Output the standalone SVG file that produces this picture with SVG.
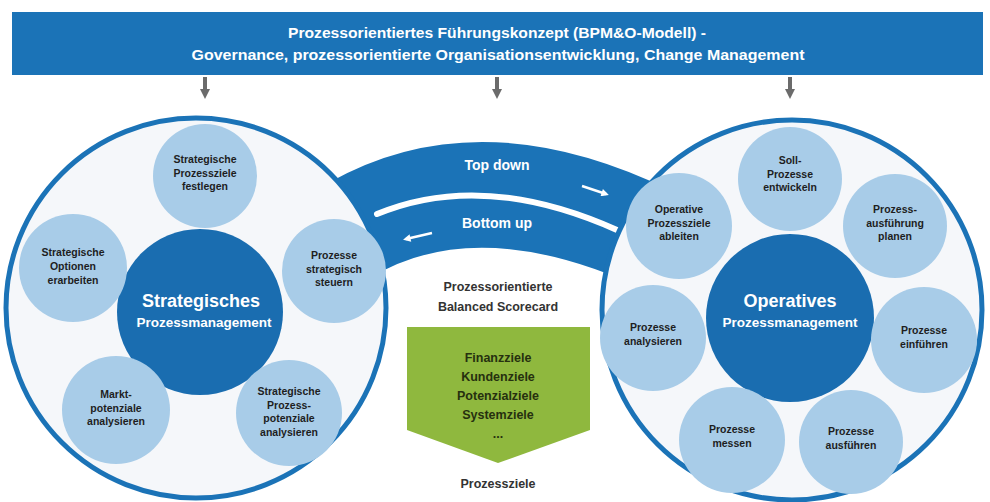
<svg xmlns="http://www.w3.org/2000/svg" width="990" height="502" viewBox="0 0 990 502">
<defs>
<style>
.big{fill:#f5f7fa;stroke:#1b73b7;stroke-width:5}
.ctr{fill:#1a6db0}
.sat{fill:#a8cce8}
.st{font-family:"Liberation Sans",Arial,sans-serif;font-weight:bold;font-size:10.5px;fill:#1e1e1e;text-anchor:middle}
.ct1{font-family:"Liberation Sans",Arial,sans-serif;font-weight:bold;font-size:18px;fill:#ffffff;text-anchor:middle}
.ct2{font-family:"Liberation Sans",Arial,sans-serif;font-weight:bold;font-size:13.5px;fill:#ffffff;text-anchor:middle}
.hd{font-family:"Liberation Sans",Arial,sans-serif;font-weight:bold;font-size:14.5px;fill:#ffffff;text-anchor:middle}
.mt{font-family:"Liberation Sans",Arial,sans-serif;font-weight:bold;font-size:12.5px;fill:#333333;text-anchor:middle}
.gt{font-family:"Liberation Sans",Arial,sans-serif;font-weight:bold;font-size:12.5px;fill:#26300f;text-anchor:middle}
.bt{font-family:"Liberation Sans",Arial,sans-serif;font-weight:bold;font-size:14px;fill:#ffffff;text-anchor:middle}
.garrow{stroke:#6b6b6b;stroke-width:4;fill:none}
</style>
<marker id="gh" viewBox="0 0 10 10" refX="5" refY="5" markerWidth="3" markerHeight="2.5" orient="auto" markerUnits="strokeWidth">
<path d="M0,0 L10,5 L0,10 Z" fill="#6b6b6b"/>
</marker>
<marker id="wh" viewBox="0 0 10 10" refX="6" refY="5" markerWidth="3.5" markerHeight="3" orient="auto" markerUnits="strokeWidth">
<path d="M0,0 L10,5 L0,10 Z" fill="#ffffff"/>
</marker>
</defs>

<g id="header">
<rect x="12" y="12" width="971" height="63" fill="#1b73b7"/>
<text class="hd" x="497" y="38" textLength="418" lengthAdjust="spacingAndGlyphs">Prozessorientiertes Führungskonzept (BPM&amp;O-Modell) -</text>
<text class="hd" x="498" y="60" textLength="613" lengthAdjust="spacingAndGlyphs">Governance, prozessorientierte Organisationsentwicklung, Change Management</text>
</g>

<g id="connectors">
<line class="garrow" x1="205" y1="77" x2="205" y2="94" marker-end="url(#gh)"/>
<line class="garrow" x1="497" y1="77" x2="497" y2="94" marker-end="url(#gh)"/>
<line class="garrow" x1="790" y1="77" x2="790" y2="94" marker-end="url(#gh)"/>
<g id="band">
<path d="M330,182 Q480,98 670,190 L650,292 Q480,211 370,278 Z" fill="#1b73b7"/>
<path d="M377,214 Q483,170 617,230" stroke="#ffffff" stroke-width="6" fill="none" stroke-linecap="round"/>
<text class="bt" x="497" y="170">Top down</text>
<text class="bt" x="497" y="228" font-size="14.5">Bottom up</text>
<line x1="582" y1="186" x2="606" y2="194" stroke="#ffffff" stroke-width="2.5" marker-end="url(#wh)"/>
<line x1="432" y1="233" x2="406" y2="239" stroke="#ffffff" stroke-width="2.5" marker-end="url(#wh)"/>
</g>
</g>

<g id="strategisch">
<circle class="big" cx="196" cy="308" r="190"/>
<circle class="ctr" cx="200" cy="312" r="83"/>
<text class="ct1" x="201" y="307">Strategisches</text>
<text class="ct2" x="204" y="327">Prozessmanagement</text>
</g>
<g id="operativ">
<circle class="big" cx="792" cy="310" r="190"/>
<circle class="ctr" cx="790" cy="318" r="84"/>
<text class="ct1" x="790" y="307">Operatives</text>
<text class="ct2" x="790" y="327">Prozessmanagement</text>
</g>

<g id="s-ziele-festlegen">
<circle class="sat" cx="205" cy="176" r="52"/>
<text class="st" x="205" y="163">Strategische</text>
<text class="st" x="205" y="176.5">Prozessziele</text>
<text class="st" x="205" y="190">festlegen</text>
</g>
<g id="s-optionen">
<circle class="sat" cx="73" cy="268" r="54"/>
<text class="st" x="73" y="256">Strategische</text>
<text class="st" x="73" y="270">Optionen</text>
<text class="st" x="73" y="284">erarbeiten</text>
</g>
<g id="s-steuern">
<circle class="sat" cx="334" cy="271" r="52"/>
<text class="st" x="334" y="259">Prozesse</text>
<text class="st" x="334" y="272.5">strategisch</text>
<text class="st" x="334" y="286">steuern</text>
</g>
<g id="s-markt">
<circle class="sat" cx="116" cy="410" r="54"/>
<text class="st" x="116" y="398">Markt-</text>
<text class="st" x="116" y="411.5">potenziale</text>
<text class="st" x="116" y="425">analysieren</text>
</g>
<g id="s-potenziale">
<circle class="sat" cx="289" cy="413" r="53"/>
<text class="st" x="289" y="395">Strategische</text>
<text class="st" x="289" y="408.5">Prozess-</text>
<text class="st" x="289" y="422">potenziale</text>
<text class="st" x="289" y="435.5">analysieren</text>
</g>

<g id="o-soll">
<circle class="sat" cx="790" cy="179" r="52"/>
<text class="st" x="790" y="164">Soll-</text>
<text class="st" x="790" y="177.5">Prozesse</text>
<text class="st" x="790" y="191">entwickeln</text>
</g>
<g id="o-planen">
<circle class="sat" cx="895" cy="226" r="52"/>
<text class="st" x="895" y="213">Prozess-</text>
<text class="st" x="895" y="226.5">ausführung</text>
<text class="st" x="895" y="240">planen</text>
</g>
<g id="o-einfuehren">
<circle class="sat" cx="924" cy="340" r="53"/>
<text class="st" x="924" y="334">Prozesse</text>
<text class="st" x="924" y="348">einführen</text>
</g>
<g id="o-ausfuehren">
<circle class="sat" cx="851" cy="442" r="52"/>
<text class="st" x="851" y="435">Prozesse</text>
<text class="st" x="851" y="449">ausführen</text>
</g>
<g id="o-messen">
<circle class="sat" cx="732" cy="440" r="53"/>
<text class="st" x="732" y="433">Prozesse</text>
<text class="st" x="732" y="447">messen</text>
</g>
<g id="o-analysieren">
<circle class="sat" cx="653" cy="338" r="53"/>
<text class="st" x="653" y="331">Prozesse</text>
<text class="st" x="653" y="345">analysieren</text>
</g>
<g id="o-ableiten">
<circle class="sat" cx="679" cy="226" r="53"/>
<text class="st" x="679" y="213">Operative</text>
<text class="st" x="679" y="226.5">Prozessziele</text>
<text class="st" x="679" y="240">ableiten</text>
</g>

<g id="bsc">
<text class="mt" x="498" y="291">Prozessorientierte</text>
<text class="mt" x="498" y="311">Balanced Scorecard</text>
</g>
<g id="ziele">
<polygon points="407,327 590,327 590,430 498,463 407,430" fill="#8fb83e"/>
<text class="gt" x="498" y="362">Finanzziele</text>
<text class="gt" x="498" y="381">Kundenziele</text>
<text class="gt" x="498" y="400">Potenzialziele</text>
<text class="gt" x="498" y="419">Systemziele</text>
<text class="gt" x="498" y="438">...</text>
</g>
<g id="prozessziele">
<text class="mt" x="498" y="488">Prozessziele</text>
</g>
</svg>
